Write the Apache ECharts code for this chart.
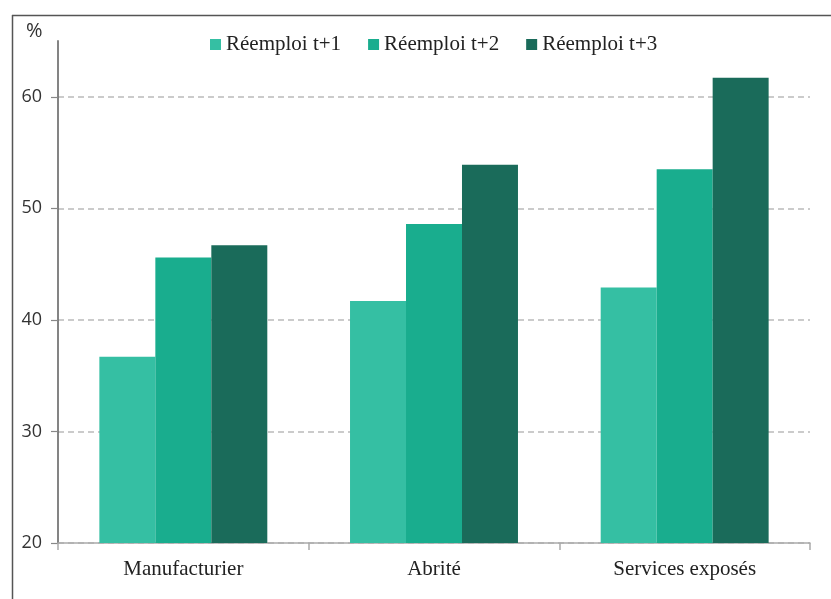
<!DOCTYPE html>
<html><head><meta charset="utf-8">
<script src="https://cdn.jsdelivr.net/npm/echarts@6/dist/echarts.min.js"></script>
<style>html,body{margin:0;padding:0;background:#fff}#c{width:831px;height:599px}</style>
</head><body><div id="c"></div>
<script>
const categories = ['Manufacturier', 'Abrité', 'Services exposés'];
const seriesNames = ['Réemploi t+1', 'Réemploi t+2', 'Réemploi t+3'];
const t1 = [36.7, 41.7, 42.9];
const t2 = [45.6, 48.6, 53.5];
const t3 = [46.7, 53.9, 61.7];
const colors = ['#35BFA3', '#19AD8E', '#1A6B5A'];
const yTicks = [20, 30, 40, 50, 60];
const yMin = 20, yTop = 65, yTickMax = 60;

const gridTop = 41, gridBottom = 56, plotH = 599 - gridTop - gridBottom;
const tickGridTop = gridTop + plotH * (yTop - yTickMax) / (yTop - yMin);

const chart = echarts.init(document.getElementById('c'));
const data = [t1, t2, t3];
chart.setOption({
  animation: false,
  grid: [
    {left: 58, right: 21, top: gridTop, bottom: gridBottom},
    {left: 58, right: 21, top: tickGridTop, bottom: gridBottom}
  ],
  legend: {
    top: 29, left: 205, itemGap: 27, itemWidth: 11, itemHeight: 11,
    icon: 'rect',
    textStyle: {fontFamily: 'Liberation Serif', fontSize: 21, color: '#222'},
    data: seriesNames
  },
  xAxis: [{
    type: 'category', data: categories, gridIndex: 0,
    axisLine: {lineStyle: {color: '#aaa', width: 1.5}},
    axisTick: {show: true, length: 7, lineStyle: {color: '#aaa', width: 1.5}},
    axisLabel: {fontFamily: 'Liberation Serif', fontSize: 21, color: '#222', margin: 16}
  }, {
    type: 'category', data: categories, gridIndex: 1, show: false
  }],
  yAxis: [{
    type: 'value', min: yMin, max: yTop, gridIndex: 0,
    axisLine: {show: true, lineStyle: {color: '#777', width: 1.8}},
    axisTick: {show: false}, axisLabel: {show: false}, splitLine: {show: false}
  }, {
    type: 'value', min: yMin, max: yTickMax, interval: 10, gridIndex: 1,
    axisLine: {show: false},
    axisTick: {show: true, length: 7, lineStyle: {color: '#888', width: 1.2}},
    axisLabel: {fontFamily: 'Open Sans', fontSize: 18, color: '#333', margin: 16,
      formatter: v => yTicks.includes(v) ? String(v) : ''},
    splitLine: {show: true, lineStyle: {color: '#bbb', type: [6, 4], width: 1.5}}
  }],
  series: seriesNames.map((n, i) => ({
    name: n, type: 'bar', data: data[i], barGap: '0%', barCategoryGap: '33%',
    xAxisIndex: 0, yAxisIndex: 0, z: 3,
    itemStyle: {color: colors[i]}
  })),
  graphic: [
    {type: 'text', left: 26, top: 21, style: {text: '%', fontFamily: 'Open Sans', fontSize: 20, fill: '#333'}},
    {type: 'line', shape: {x1: 12, y1: 15.5, x2: 831, y2: 15.5}, style: {stroke: '#555', lineWidth: 1.5}},
    {type: 'line', shape: {x1: 12.5, y1: 15, x2: 12.5, y2: 599}, style: {stroke: '#555', lineWidth: 1.5}}
  ]
});
</script></body></html>
